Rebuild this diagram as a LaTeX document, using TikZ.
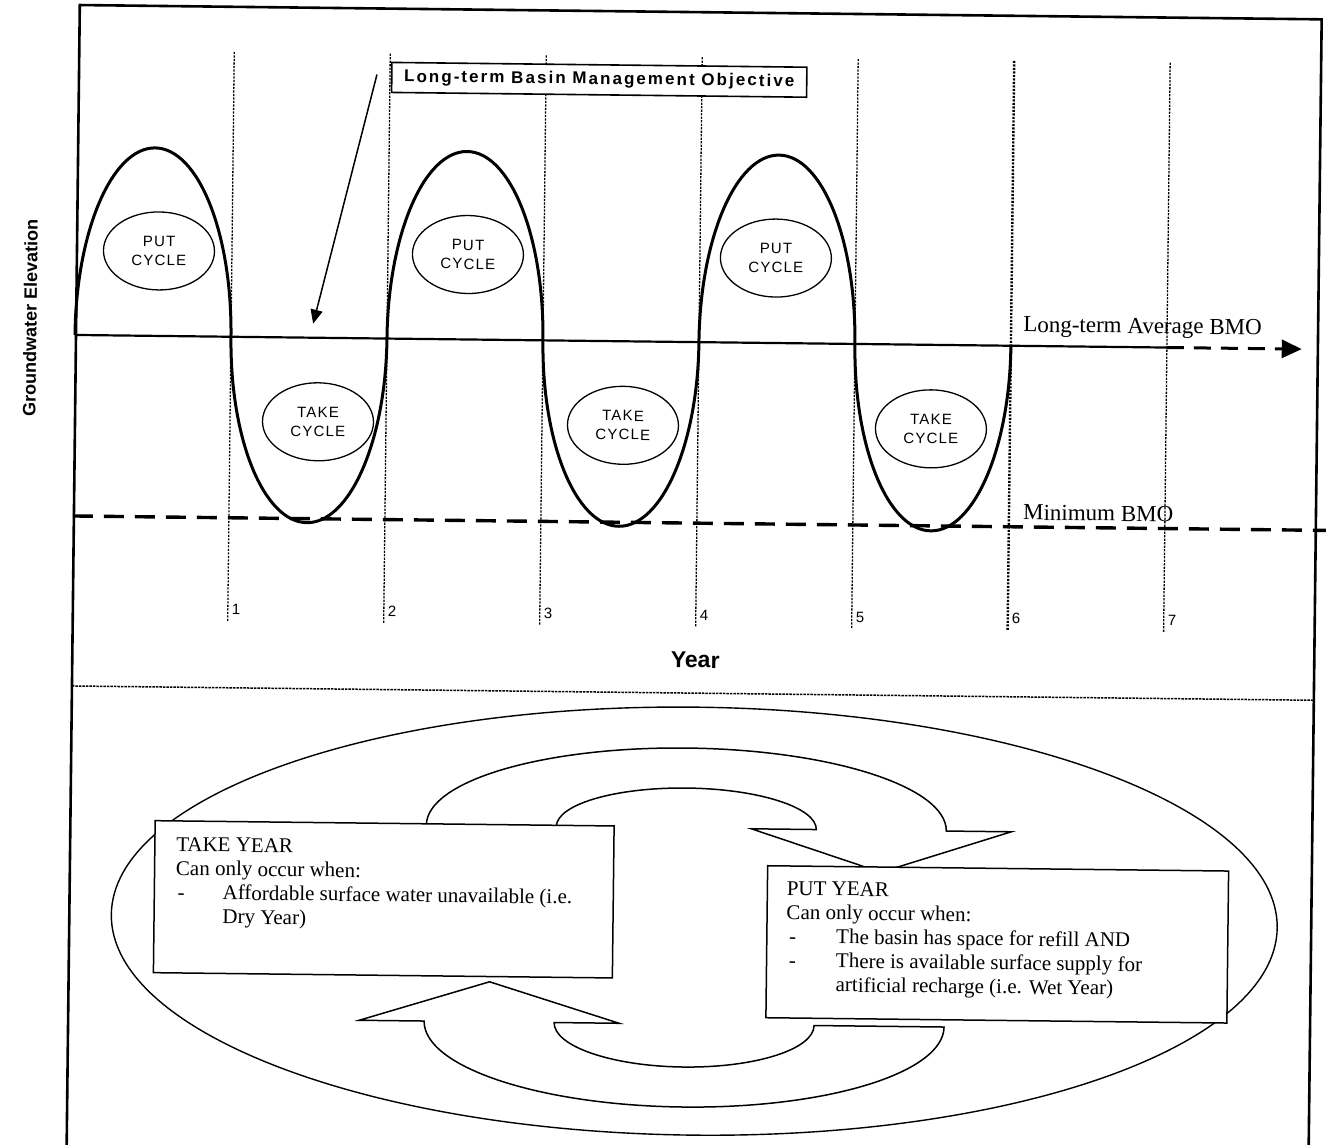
\documentclass[tikz,border=0pt]{standalone}
\usepackage{fontspec}
\setmainfont{Liberation Serif}
\setsansfont{Liberation Sans}
\usetikzlibrary{shapes.geometric,arrows.meta}
\tikzset{
  frameline/.style={line width=2.6pt},
  yearline/.style={line width=1.2pt, dash pattern=on 2.2pt off 1.3pt},
  wave/.style={line width=3pt},
  cyc/.style={ellipse, draw, line width=1.3pt, fill=white, minimum width=111pt, minimum height=78pt, inner sep=0pt, align=center,
    font=\sffamily\fontsize{15}{19}\selectfont\addfontfeatures{LetterSpace=8}},
  yearnum/.style={anchor=west, inner sep=0pt, font=\sffamily\fontsize{15}{17}\selectfont},
  bmolab/.style={anchor=base west, inner sep=0pt, font=\fontsize{23}{27}\selectfont},
  yearbox/.style={draw, line width=1.5pt, fill=white, anchor=north west, inner sep=0pt, minimum height=152pt},
  boxtxt/.style={anchor=base west, inner sep=0pt, font=\fontsize{21}{24}\selectfont},
  bigarrow/.style={draw, line width=1.5pt, fill=white, line join=miter},
}
\begin{document}
\begin{tikzpicture}[x=1pt,y=1pt]
\useasboundingbox (0,0) rectangle (1326,-1145);
\fill[white] (0,0) rectangle (1326,-1145);
\clip (0,0) rectangle (1326,-1145);
\begin{scope}[rotate around={-0.66:(76,-335)}, transform shape]
  % frame
  \draw[frameline] (76,-1190) -- (76,-5) -- (1318,-5) -- (1318,-1190);
  % year lines and numbers
  \foreach \k/\w in {1/1.3,2/1.3,3/1.3,4/1.3,5/1.3,6/2.4,7/1.3} {
    \pgfmathsetmacro{\xx}{75+156*\k}
    \draw[yearline, line width=\w pt] (\xx,-50) -- (\xx,-620);
    \node[yearnum] (yn\k) at (\xx+4,-608) {\k};
  }
  % objective box and arrow
  \node[draw, line width=1.6pt, fill=white, anchor=north west, minimum width=415pt, minimum height=30pt, inner sep=0pt,
        font=\sffamily\bfseries\fontsize{17}{20}\selectfont\addfontfeatures{LetterSpace=12}] (obj) at (388,-58)
        {Long-term Basin Management Objective};
  \coordinate (objtail) at (374,-71);
  \coordinate (objtip) at (313,-321);
  \draw[line width=1.5pt, -{Triangle[length=14pt,width=12pt]}] (objtail) -- (objtip);
  % average BMO line
  \coordinate (avgL) at (75,-335);
  \coordinate (avgM) at (1167,-335);
  \coordinate (avgR) at (1302,-335);
  \draw[line width=2.2pt] (avgL) -- (avgM);
  \draw[line width=3pt, dash pattern=on 17pt off 10pt, -{Triangle[length=20pt,width=18pt]}] (avgM) -- (avgR);
  % minimum BMO line
  \draw[line width=3.4pt, dash pattern=on 20pt off 11pt] (75,-516) -- (1345,-516);
  % wave
  \draw[wave] (75,-335)
    arc[start angle=180, end angle=0, x radius=78pt, y radius=188pt]
    arc[start angle=180, end angle=360, x radius=78pt, y radius=185pt]
    arc[start angle=180, end angle=0, x radius=78pt, y radius=188pt]
    arc[start angle=180, end angle=360, x radius=78pt, y radius=185pt]
    arc[start angle=180, end angle=0, x radius=78pt, y radius=188pt]
    arc[start angle=180, end angle=360, x radius=78pt, y radius=186pt];
  % cycle ellipses
  \node[cyc] (put1) at (158,-250) {PUT\\CYCLE};
  \node[cyc] (put2) at (467,-250) {PUT\\CYCLE};
  \node[cyc] (put3) at (775,-250) {PUT\\CYCLE};
  \node[cyc] (take1) at (319,-419) {TAKE\\CYCLE};
  \node[cyc] (take2) at (624,-419) {TAKE\\CYCLE};
  \node[cyc] (take3) at (932,-419) {TAKE\\CYCLE};
  % labels
  \node[bmolab] (avglab) at (1023,-321) {Long-term Average BMO};
  \node[bmolab] (minlab) at (1025,-509) {Minimum BMO};
  \node[font=\sffamily\bfseries\fontsize{23}{27}\selectfont, inner sep=0pt] (yearlab) at (699,-653) {Year};
  \node[rotate=90, inner sep=0pt, font=\sffamily\bfseries\fontsize{18}{22}\selectfont] (gwlab) at (30,-318) {Groundwater Elevation};
  % separator
  \draw[line width=1.5pt, dash pattern=on 2.5pt off 1pt] (76,-686) -- (1318,-686);
  % bottom cycle
  \node[ellipse, draw, line width=1.4pt, minimum width=1166pt, minimum height=428pt, inner sep=0pt] (cycell) at (701,-914) {};
  \draw[bigarrow] (432,-821) arc[start angle=180, end angle=0, x radius=260pt, y radius=80pt]
    -- (1017,-821) -- (887,-863) -- (757,-821) -- (822,-821)
    arc[start angle=0, end angle=180, x radius=130pt, y radius=40pt] -- cycle;
  \draw[bigarrow] (952,-1017) arc[start angle=0, end angle=-180, x radius=260pt, y radius=83pt]
    -- (367,-1017) -- (497,-977) -- (627,-1017) -- (562,-1017)
    arc[start angle=180, end angle=360, x radius=130pt, y radius=43pt] -- cycle;
  \node[yearbox, minimum width=459pt] (takebox) at (160,-819) {};
  \node[yearbox, minimum width=461pt] (putbox) at (773,-857) {};
  % take box text
  \node[boxtxt] (t1) at (182,-850) {TAKE YEAR};
  \node[boxtxt] (t2) at (182,-874) {Can only occur when:};
  \node[boxtxt] (t3) at (184,-898) {-};
  \node[boxtxt] (t4) at (229,-898) {Affordable surface water unavailable (i.e.};
  \node[boxtxt] (t5) at (229,-922) {Dry Year)};
  % put box text
  \node[boxtxt] (p1) at (793,-887) {PUT YEAR};
  \node[boxtxt] (p2) at (793,-911) {Can only occur when:};
  \node[boxtxt] (p3) at (796,-935) {-};
  \node[boxtxt] (p4) at (843,-935) {The basin has space for refill AND};
  \node[boxtxt] (p5) at (796,-959) {-};
  \node[boxtxt] (p6) at (843,-959) {There is available surface supply for};
  \node[boxtxt] (p7) at (843,-983) {artificial recharge (i.e. Wet Year)};
\end{scope}
\end{tikzpicture}
\end{document}
